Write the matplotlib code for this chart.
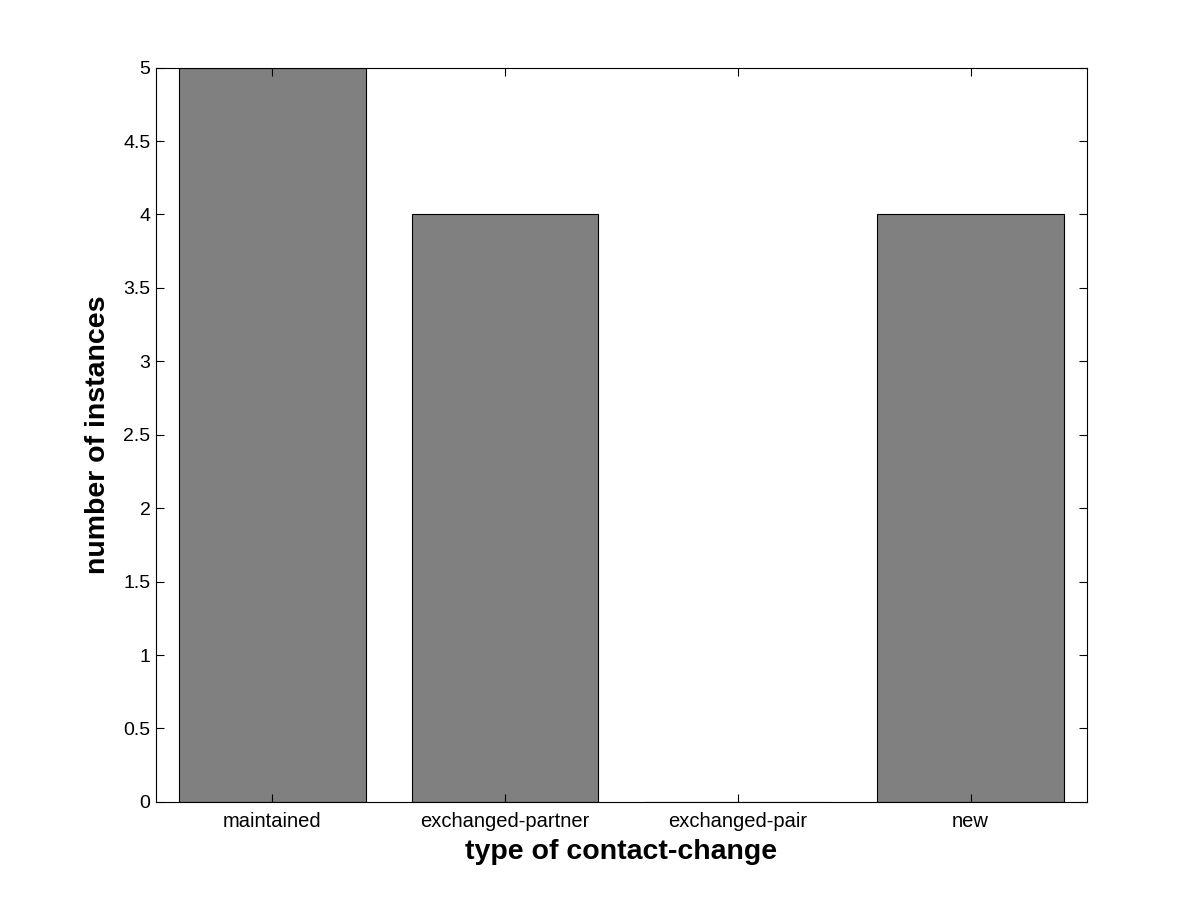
import matplotlib.pyplot as plt
import numpy as np

categories = ['maintained', 'exchanged-partner', 'exchanged-pair', 'new']
counts = [5, 4, 0, 4]
yticks = [0, 0.5, 1, 1.5, 2, 2.5, 3, 3.5, 4, 4.5, 5]

plt.rcParams['font.family'] = ['Liberation Sans', 'DejaVu Sans']

fig = plt.figure(figsize=(12.01, 9.01), dpi=100)
ax = fig.add_axes([0.13, 0.11, 0.775, 0.815])

x = np.arange(1, len(categories) + 1)
ax.bar(x, counts, width=0.8, color='#808080', edgecolor='black', linewidth=0.8)

ax.set_xlim(0.5, 4.5)
ax.set_ylim(0, 5)
ax.set_xticks(x)
ax.set_xticklabels(categories)
ax.set_yticks(yticks)
ax.set_yticklabels([f'{v:g}' for v in yticks])
ax.tick_params(direction='in', top=True, right=True, length=6, width=0.8)
ax.tick_params(axis='x', labelsize=14.5, pad=7)
ax.tick_params(axis='y', labelsize=14, pad=4)
for s in ax.spines.values():
    s.set_linewidth(0.8)

ax.set_xlabel('type of contact-change', fontsize=20.5, fontweight='bold', labelpad=6)
ax.set_ylabel('number of instances', fontsize=20.5, fontweight='bold', labelpad=9)

plt.savefig('out.png', dpi=100)
